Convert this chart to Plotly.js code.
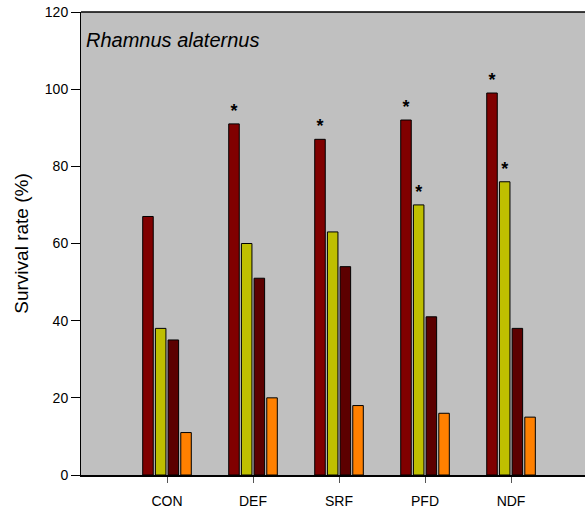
<!DOCTYPE html>
<html>
<head>
<meta charset="utf-8">
<script src="https://cdn.plot.ly/plotly-3.0.1.min.js"></script>
<style>html,body{margin:0;padding:0;background:#fff;}#chart{width:585px;height:514px;}</style>
</head>
<body>
<div id="chart"></div>
<script>
var categories = ["CON", "DEF", "SRF", "PFD", "NDF"];
var series1 = [67, 91, 87, 92, 99];
var series2 = [38, 60, 63, 70, 76];
var series3 = [35, 51, 54, 41, 38];
var series4 = [11, 20, 18, 16, 15];
var marks1 = ["", "*", "*", "*", "*"];
var marks2 = ["", "", "", "*", "*"];
var marks3 = ["", "", "", "", ""];
var marks4 = ["", "", "", "", ""];
var yTicks = [0, 20, 40, 60, 80, 100, 120];

var colors = ["#800000", "#BFBF00", "#5C0000", "#FF8000"];
var allVals = [series1, series2, series3, series4];
var allMarks = [marks1, marks2, marks3, marks4];

var traces = allVals.map(function (vals, i) {
  return {
    type: "bar",
    x: categories,
    y: vals,
    text: allMarks[i],
    textposition: "outside",
    textfont: {family: "Liberation Sans, Arial, sans-serif", size: 18, color: "#000", weight: "bold"},
    cliponaxis: false,
    marker: {color: colors[i], line: {color: "#000", width: 1}},
    hoverinfo: "none"
  };
});

var layout = {
  width: 585,
  height: 514,
  margin: {l: 81, r: 0, t: 12, b: 39},
  paper_bgcolor: "#ffffff",
  plot_bgcolor: "#C0C0C0",
  showlegend: false,
  barmode: "group",
  bargap: 0.41,
  bargroupgap: 0.17,
  font: {family: "Liberation Sans, Arial, sans-serif", color: "#000"},
  xaxis: {
    type: "category",
    range: [-1, 4.86],
    showgrid: false,
    zeroline: false,
    showline: true,
    linecolor: "#000",
    linewidth: 2,
    ticks: "outside",
    ticklen: 6,
    tickcolor: "#555",
    tickwidth: 1,
    ticklabelstandoff: 6,
    tickfont: {size: 14, color: "#000"},
    fixedrange: true
  },
  yaxis: {
    range: [0, 120],
    tickvals: yTicks,
    ticktext: yTicks.map(String),
    showgrid: false,
    zeroline: false,
    showline: true,
    linecolor: "#000",
    linewidth: 1,
    ticks: "outside",
    ticklen: 9,
    tickcolor: "#000",
    tickfont: {size: 14, color: "#000"},
    title: {text: "Survival rate (%)", font: {size: 19, color: "#000"}, standoff: 11},
    fixedrange: true
  },
  shapes: [{
    type: "line", xref: "paper", yref: "paper",
    x0: 0, x1: 1, y0: 1, y1: 1,
    line: {color: "#000", width: 1.5}
  }],
  annotations: [{
    text: "<i>Rhamnus alaternus</i>",
    xref: "paper", yref: "paper",
    x: 0.006, y: 0.94,
    xanchor: "left", yanchor: "middle",
    showarrow: false,
    font: {size: 20, color: "#000"}
  }]
};

Plotly.newPlot("chart", traces, layout, {staticPlot: true, displayModeBar: false});
</script>
</body>
</html>
